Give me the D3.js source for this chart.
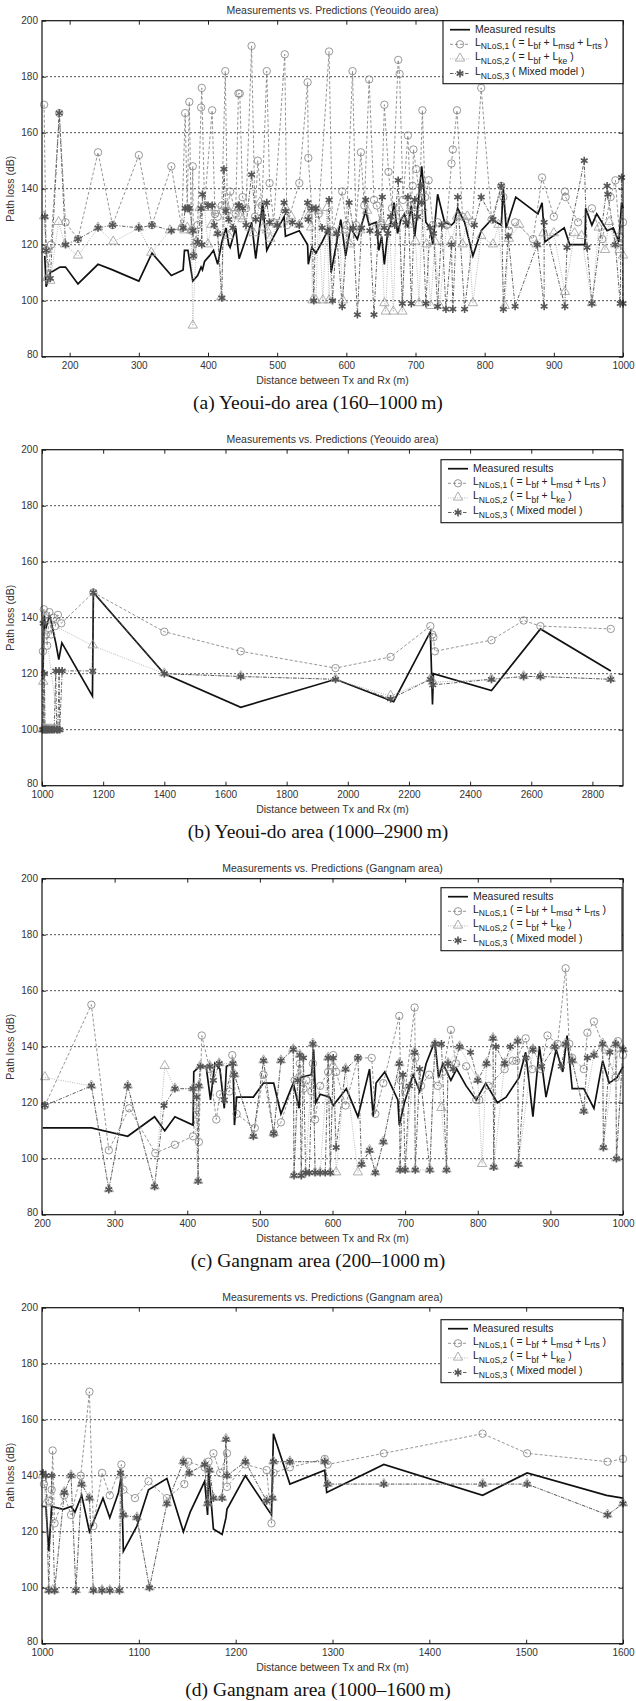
<!DOCTYPE html>
<html><head><meta charset="utf-8">
<script src="https://cdn.jsdelivr.net/npm/d3@7"></script>
<style>body{margin:0;background:#fff}svg{display:block}</style>
</head><body>
<script>
// ---------- labels ----------
const panelTitles = ["Measurements vs. Predictions (Yeouido area)","Measurements vs. Predictions (Yeouido area)","Measurements vs. Predictions (Gangnam area)","Measurements vs. Predictions (Gangnam area)"];
const captions = ["(a) Yeoui-do area (160\u20131000\u2009m)","(b) Yeoui-do area (1000\u20132900\u2009m)","(c) Gangnam area (200\u20131000\u2009m)","(d) Gangnam area (1000\u20131600\u2009m)"];
const xDomains = [[160,1000],[1000,2900],[200,1000],[1000,1600]];
const xTicksA = [200,300,400,500,600,700,800,900,1000];
const xTicksB = [1000,1200,1400,1600,1800,2000,2200,2400,2600,2800];
const xTicksC = [200,300,400,500,600,700,800,900,1000];
const xTicksD = [1000,1100,1200,1300,1400,1500,1600];
const yTicks = [80,100,120,140,160,180,200];
const xLabel = "Distance between Tx and Rx (m)";
const yLabel = "Path loss (dB)";

// ---------- panel (a) ----------
const measA = [[164,116],[166,105],[172,110],[186,112],[194,112],[212,106],[241,113],[262,111],[300,107],[319,117],[347,109],[364,111],[366,118],[371,118],[378,107],[385,109],[390,112],[392,111],[395,114],[402,116],[408,118],[414,113],[420,121],[426,126],[430,120],[432,119],[440,126],[445,115],[463,128],[469,115],[479,135],[485,118],[489,120],[510,130],[512,123],[532,125],[544,120],[545,113],[550,119],[556,117],[565,121],[575,126],[578,110],[592,129],[599,116],[606,126],[616,122],[628,132],[633,127],[643,128],[647,118],[651,123],[655,113],[660,125],[664,127],[669,135],[674,124],[679,129],[684,131],[689,126],[694,134],[699,123],[704,135],[709,148],[712,140],[715,128],[721,126],[725,120],[732,138],[742,128],[752,127],[756,128],[761,133],[771,128],[783,116],[795,125],[810,129],[824,127],[827,140],[831,126],[845,137],[877,131],[883,135],[887,121],[915,126],[923,120],[945,120],[946,133],[955,127],[962,131],[977,125],[986,126],[994,121],[998,135],[1000,133]];
const nlos1A = [[163,170],[166,118],[168,108],[173,120],[185,167],[194,128],[212,122],[241,153],[262,127],[300,152],[319,127],[347,148],[362,126],[367,167],[370,133],[373,171],[376,125],[378,148],[379,116],[385,127],[390,169],[391,176],[395,134],[406,168],[410,131],[414,130],[420,134],[425,182],[428,132],[432,139],[440,131],[444,174],[446,174],[450,137],[455,133],[463,191],[468,130],[472,150],[478,134],[485,182],[489,142],[495,128],[511,188],[514,127],[532,142],[544,178],[545,151],[550,133],[560,131],[575,189],[580,125],[594,139],[600,127],[609,182],[614,127],[621,153],[626,134],[633,179],[640,136],[644,134],[650,127],[655,170],[661,146],[666,133],[675,186],[677,181],[682,136],[689,159],[693,134],[696,141],[697,154],[701,147],[706,137],[710,168],[714,137],[719,143],[725,127],[732,128],[745,127],[752,149],[754,154],[760,168],[768,130],[782,128],[795,176],[810,129],[824,141],[827,137],[835,125],[844,128],[870,122],[883,144],[900,130],[916,139],[917,137],[935,128],[955,133],[970,122],[982,137],[989,143],[995,123],[1000,128]];
const nlos2A = [[163,130],[166,118],[168,108],[172,107],[184,128],[193,120],[212,116],[241,126],[263,121],[300,126],[318,117],[345,125],[362,126],[366,125],[370,126],[376,125],[378,91],[383,121],[388,133],[395,133],[400,120],[405,127],[410,133],[414,124],[419,101],[425,134],[430,123],[440,133],[446,130],[450,129],[460,126],[466,124],[475,135],[480,126],[485,125],[490,122],[500,127],[512,133],[520,130],[532,127],[545,130],[549,126],[551,100],[556,100],[560,132],[566,100],[572,133],[575,100],[580,124],[590,125],[595,100],[599,125],[605,120],[612,126],[620,125],[630,132],[640,125],[650,128],[655,99],[657,96],[662,128],[668,96],[672,130],[676,133],[681,96],[686,130],[690,127],[695,133],[700,121],[705,99],[710,133],[716,120],[722,98],[728,121],[735,98],[745,127],[752,121],[760,130],[768,120],[775,130],[783,99],[795,123],[812,120],[820,127],[829,98],[835,122],[850,127],[875,120],[885,124],[900,124],[916,103],[930,124],[940,123],[955,99],[965,126],[974,118],[980,128],[989,120],[995,118],[1000,116]];
const nlos3A = [[164,130],[166,118],[172,108],[185,167],[194,120],[212,122],[241,126],[262,127],[300,126],[319,127],[347,125],[364,126],[367,133],[371,133],[373,133],[378,125],[379,116],[385,121],[390,133],[391,120],[392,138],[400,134],[406,134],[409,127],[414,124],[420,101],[423,147],[426,132],[430,129],[436,126],[444,134],[445,134],[450,133],[455,127],[463,145],[469,129],[479,130],[485,135],[489,128],[500,127],[510,135],[512,132],[522,128],[532,127],[544,135],[545,129],[550,133],[553,100],[556,133],[565,126],[573,125],[575,136],[580,100],[586,124],[594,98],[604,135],[610,126],[616,95],[622,126],[628,136],[634,125],[640,95],[646,124],[652,137],[655,126],[660,124],[664,130],[670,127],[675,143],[681,99],[686,128],[689,137],[694,99],[699,136],[703,130],[708,141],[709,135],[715,99],[721,126],[726,124],[732,98],[738,127],[744,97],[752,120],[754,97],[761,137],[771,97],[785,127],[795,137],[812,129],[824,141],[827,97],[834,123],[844,98],[876,120],[886,98],[886,128],[916,98],[919,119],[944,150],[948,119],[955,99],[977,141],[978,138],[989,120],[996,99],[998,144],[1000,99]];

// ---------- panel (b) ----------
const measB = [[1003,118],[1007,141],[1012,136],[1025,141],[1045,131],[1055,125],[1065,131],[1165,112],[1168,149],[1400,120],[1650,108],[1960,118],[2150,110],[2270,135],[2277,109],[2280,120],[2470,114],[2630,136],[2860,121]];
const nlos1B = [[1003,128],[1006,143],[1010,141],[1013,134],[1017,130],[1024,142],[1030,134],[1038,140],[1043,137],[1052,141],[1063,138],[1168,149],[1400,135],[1650,128],[1960,122],[2140,126],[2270,137],[2276,134],[2280,133],[2285,128],[2470,132],[2575,139],[2630,137],[2860,136]];
const nlos2B = [[1002,100],[1004,117],[1006,100],[1009,100],[1011,100],[1014,100],[1018,100],[1022,100],[1027,100],[1032,100],[1038,100],[1042,100],[1048,100],[1055,100],[1008,139],[1166,130],[1400,120],[1650,119],[1960,118],[2140,112],[2270,118],[2278,117],[2470,118],[2575,119],[2630,119],[2860,118]];
const nlos3B = [[1002,100],[1004,138],[1006,100],[1008,120],[1010,100],[1013,100],[1016,100],[1020,100],[1025,100],[1030,100],[1035,100],[1040,100],[1045,121],[1048,100],[1052,100],[1056,121],[1058,100],[1066,121],[1166,121],[1168,149],[1400,120],[1650,119],[1960,118],[2140,111],[2270,118],[2278,116],[2470,118],[2575,119],[2630,119],[2860,118]];

// ---------- panel (c) ----------
const measC = [[201,111],[268,111],[318,108],[355,115],[369,110],[383,115],[408,112],[409,131],[417,133],[426,133],[432,121],[438,134],[445,132],[451,118],[454,133],[463,134],[465,112],[468,122],[491,122],[505,127],[519,127],[529,116],[546,127],[554,118],[556,129],[571,130],[574,139],[577,120],[583,123],[596,122],[601,119],[619,125],[635,115],[651,132],[656,115],[660,127],[672,131],[690,121],[692,112],[699,120],[711,130],[720,124],[729,134],[741,142],[746,129],[752,134],[763,128],[771,132],[784,126],[798,121],[811,127],[827,120],[839,122],[857,129],[866,138],[876,115],[885,140],[894,122],[908,139],[917,131],[923,144],[930,125],[946,125],[960,118],[972,135],[981,127],[992,129],[1000,133]];
const nlos1C = [[204,119],[268,155],[292,103],[320,118],[356,102],[383,105],[408,108],[412,118],[416,106],[420,144],[431,132],[440,114],[445,123],[458,124],[462,137],[468,116],[493,111],[505,130],[519,109],[529,113],[548,128],[555,134],[560,125],[564,128],[571,124],[573,134],[576,114],[583,126],[594,131],[601,137],[605,131],[618,119],[635,136],[654,136],[659,116],[670,127],[692,151],[694,128],[700,124],[713,154],[714,136],[722,126],[733,130],[745,126],[752,131],[763,146],[770,134],[784,133],[798,121],[802,121],[815,126],[837,132],[848,135],[853,135],[866,143],[875,132],[887,132],[896,144],[910,141],[921,168],[926,141],[930,136],[946,132],[951,145],[960,149],[975,139],[990,129],[993,142],[1000,137]];
const nlos2C = [[204,129],[268,126],[292,89],[318,126],[355,90],[369,133],[383,125],[408,125],[415,92],[416,126],[418,133],[431,133],[444,134],[463,134],[465,130],[491,108],[505,135],[519,109],[529,135],[546,139],[547,94],[555,137],[557,94],[563,95],[573,141],[576,95],[583,95],[594,136],[597,95],[601,133],[605,95],[618,132],[635,95],[640,98],[651,103],[659,95],[670,106],[692,134],[693,96],[700,96],[713,138],[714,96],[734,96],[741,141],[750,118],[757,96],[759,134],[775,140],[800,128],[806,98],[812,134],[821,143],[822,97],[837,134],[855,142],[856,98],[876,139],[906,140],[921,141],[930,135],[946,117],[960,137],[972,141],[973,104],[990,141],[991,100],[1000,139]];
const nlos3C = [[204,119],[268,126],[292,89],[318,126],[355,90],[368,119],[383,125],[408,125],[413,122],[415,92],[416,126],[418,133],[431,133],[436,128],[444,134],[451,121],[463,134],[465,130],[491,108],[505,135],[519,109],[529,135],[546,139],[547,94],[552,128],[555,137],[557,94],[560,136],[563,95],[568,95],[573,141],[576,95],[583,95],[590,95],[594,136],[597,95],[601,136],[605,104],[618,132],[635,136],[640,98],[651,103],[659,95],[670,106],[692,134],[693,96],[697,130],[700,96],[706,126],[713,138],[714,96],[720,132],[734,96],[741,141],[750,141],[757,96],[759,134],[766,132],[775,140],[790,138],[800,128],[812,134],[821,143],[822,97],[825,140],[837,134],[845,140],[855,142],[856,98],[866,136],[876,139],[888,133],[906,140],[915,133],[921,141],[930,135],[946,117],[951,136],[960,137],[972,141],[973,104],[982,138],[990,141],[991,100],[1000,139]];

// ---------- panel (d) ----------
const measD = [[1000,129],[1004,129],[1007,113],[1010,129],[1022,128],[1030,129],[1034,127],[1041,133],[1049,120],[1063,132],[1070,125],[1079,134],[1082,140],[1084,113],[1098,122],[1110,135],[1129,139],[1146,120],[1153,127],[1168,138],[1171,126],[1172,142],[1177,121],[1186,119],[1190,125],[1191,128],[1210,140],[1237,126],[1239,155],[1256,137],[1292,142],[1294,134],[1353,144],[1455,133],[1501,141],[1583,133],[1600,132]];
const nlos1D = [[1002,137],[1007,131],[1010,135],[1011,149],[1013,123],[1023,133],[1030,126],[1040,140],[1049,170],[1053,122],[1062,141],[1070,133],[1082,144],[1084,135],[1096,132],[1110,138],[1129,132],[1147,137],[1151,145],[1168,143],[1172,145],[1177,148],[1184,141],[1191,148],[1191,136],[1210,144],[1232,142],[1237,123],[1239,141],[1256,143],[1292,146],[1295,144],[1353,148],[1455,155],[1501,148],[1584,145],[1600,146]];
const nlos2D = [[1001,140],[1004,130],[1007,99],[1011,99],[1013,99],[1023,134],[1030,140],[1035,99],[1041,137],[1049,132],[1053,99],[1062,99],[1070,99],[1080,99],[1082,140],[1084,126],[1098,125],[1111,100],[1129,130],[1146,145],[1152,141],[1168,144],[1171,130],[1173,142],[1177,132],[1186,132],[1190,153],[1191,140],[1210,145],[1232,131],[1238,132],[1239,145],[1256,145],[1292,145],[1295,137],[1353,137],[1455,137],[1501,137],[1584,126],[1600,130]];
const nlos3D = [[1001,141],[1004,140],[1007,99],[1010,140],[1013,99],[1023,134],[1030,140],[1035,99],[1041,137],[1049,132],[1053,99],[1062,99],[1070,99],[1080,99],[1081,141],[1084,126],[1098,125],[1111,100],[1129,130],[1146,145],[1152,141],[1168,144],[1171,130],[1173,142],[1177,132],[1186,132],[1190,153],[1191,140],[1210,145],[1232,131],[1238,132],[1239,145],[1256,145],[1292,145],[1295,137],[1353,137],[1455,137],[1501,137],[1584,126],[1600,130]];

// ---------- assembly ----------
const panels = [
  {meas:measA,n1:nlos1A,n2:nlos2A,n3:nlos3A,ticks:xTicksA,leg:0},
  {meas:measB,n1:nlos1B,n2:nlos2B,n3:nlos3B,ticks:xTicksB,leg:10},
  {meas:measC,n1:nlos1C,n2:nlos2C,n3:nlos3C,ticks:xTicksC,leg:9},
  {meas:measD,n1:nlos1D,n2:nlos2D,n3:nlos3D,ticks:xTicksD,leg:12}
];

const W = 636, H = 1701, L = 42, R = 623, PH = 336;
const font = "'Liberation Sans', Arial, sans-serif";
const svg = d3.select("body").append("svg").attr("width", W).attr("height", H);

const styles = {
  n1: {stroke:"#7a7a7a", dash:"3,2", width:0.8},
  n2: {stroke:"#a8a8a8", dash:"1,1.3", width:0.8},
  n3: {stroke:"#505050", dash:"3.5,1.5,1,1.5", width:0.9}
};
const triPath = d3.symbol().type(d3.symbolTriangle).size(38)();
const astPath = d3.symbol().type(d3.symbolAsterisk).size(42)();

function drawMarker(g, kind, cx, cy) {
  if (kind === "n1") {
    g.append("circle").attr("cx", cx).attr("cy", cy).attr("r", 3.7)
      .attr("fill", "none").attr("stroke", "#7f7f7f").attr("stroke-width", 0.8);
  } else if (kind === "n2") {
    g.append("path").attr("d", triPath).attr("transform", `translate(${cx},${cy - 0.5})`)
      .attr("fill", "none").attr("stroke", "#9c9c9c").attr("stroke-width", 0.8);
  } else {
    g.append("path").attr("d", astPath).attr("transform", `translate(${cx},${cy})`)
      .attr("fill", "none").attr("stroke", "#555").attr("stroke-width", 1.6);
  }
}

const fmt = d3.format("d");

panels.forEach((p, i) => {
  const top = 20.7 + 429 * i;
  const x = d3.scaleLinear().domain(xDomains[i]).range([L, R]);
  const y = d3.scaleLinear().domain([80, 200]).range([top + PH, top]);
  const g = svg.append("g");

  const cid = "clip" + i;
  svg.append("clipPath").attr("id", cid).append("rect")
    .attr("x", L - 5).attr("y", top - 5).attr("width", R - L + 10).attr("height", PH + 10);

  g.append("text").attr("x", (L + R) / 2).attr("y", top - 7).attr("text-anchor", "middle")
    .attr("font-family", font).attr("font-size", 10.5).attr("fill", "#333").text(panelTitles[i]);

  g.selectAll(".grid").data([100, 120, 140, 160, 180]).join("line")
    .attr("x1", L).attr("x2", R).attr("y1", d => y(d)).attr("y2", d => y(d))
    .attr("stroke", "#222").attr("stroke-width", 0.8).attr("stroke-dasharray", "2,2");

  const ax = (gen, tr, labels) => {
    const a = g.append("g").attr("transform", tr).call(gen);
    a.select(".domain").remove();
    a.selectAll("line").attr("stroke", "#222");
    a.selectAll("text").attr("font-family", font).attr("font-size", 10).attr("fill", "#333");
    if (!labels) a.selectAll("text").remove();
    return a;
  };
  ax(d3.axisBottom(x).tickValues(p.ticks).tickFormat(fmt).tickSize(-4).tickPadding(5), `translate(0,${top + PH})`, true);
  ax(d3.axisTop(x).tickValues(p.ticks).tickSize(-4), `translate(0,${top})`, false);
  ax(d3.axisLeft(y).tickValues(yTicks).tickFormat(fmt).tickSize(-4).tickPadding(4), `translate(${L},0)`, true)
    .selectAll("text").attr("dy", (d) => d === 80 ? "0.1em" : "0.32em");
  ax(d3.axisRight(y).tickValues(yTicks).tickSize(-4), `translate(${R},0)`, false);

  const line = d3.line().x(d => x(d[0])).y(d => y(d[1]));
  const sg = g.append("g").attr("clip-path", `url(#${cid})`);
  sg.append("path").datum(p.meas).attr("d", line).attr("fill", "none")
    .attr("stroke", "#111").attr("stroke-width", 1.7).attr("stroke-linejoin", "miter");
  ["n1", "n2", "n3"].forEach(k => {
    const st = styles[k];
    sg.append("path").datum(p[k]).attr("d", line).attr("fill", "none")
      .attr("stroke", st.stroke).attr("stroke-width", st.width).attr("stroke-dasharray", st.dash);
  });
  ["n1", "n2", "n3"].forEach(k => {
    const mg = sg.append("g");
    p[k].forEach(d => drawMarker(mg, k, x(d[0]), y(d[1])));
  });

  g.append("rect").attr("x", L).attr("y", top).attr("width", R - L).attr("height", PH)
    .attr("fill", "none").attr("stroke", "#111").attr("stroke-width", 1.2);

  g.append("text").attr("x", (L + R) / 2).attr("y", top + PH + 27).attr("text-anchor", "middle")
    .attr("font-family", font).attr("font-size", 10.5).attr("fill", "#333").text(xLabel);
  g.append("text").attr("transform", `translate(14,${top + PH / 2}) rotate(-90)`).attr("text-anchor", "middle")
    .attr("font-family", font).attr("font-size", 10.5).attr("fill", "#333").text(yLabel);

  g.append("text").attr("x", 318).attr("y", top + PH + 52).attr("text-anchor", "middle")
    .attr("font-family", "'Liberation Serif', 'Times New Roman', serif").attr("font-size", 19.5)
    .attr("fill", "#111").text(captions[i]);

  const lx = i === 0 ? 443 : 441, ly = top + p.leg, lw = R - lx - (i === 0 ? 0 : 1), lh = 63;
  const lg = g.append("g");
  lg.append("rect").attr("x", lx).attr("y", ly).attr("width", lw).attr("height", lh)
    .attr("fill", "#fff").attr("stroke", "#111").attr("stroke-width", 1.1);
  const rows = [
    {k: "m", parts: [["Measured results", false]]},
    {k: "n1", parts: [["L", false], ["NLoS,1", true], [" ( = L", false], ["bf", true], [" + L", false], ["msd", true], [" + L", false], ["rts", true], [" )", false]]},
    {k: "n2", parts: [["L", false], ["NLoS,2", true], [" ( = L", false], ["bf", true], [" + L", false], ["ke", true], [" )", false]]},
    {k: "n3", parts: [["L", false], ["NLoS,3", true], [" ( Mixed model )", false]]}
  ];
  rows.forEach((r, j) => {
    const cy = ly + 9 + j * 14.6;
    const x1 = lx + 7, x2 = lx + 27;
    if (r.k === "m") {
      lg.append("line").attr("x1", x1).attr("x2", x2).attr("y1", cy).attr("y2", cy)
        .attr("stroke", "#111").attr("stroke-width", 1.7);
    } else {
      const st = styles[r.k];
      lg.append("line").attr("x1", x1).attr("x2", x2).attr("y1", cy).attr("y2", cy)
        .attr("stroke", st.stroke).attr("stroke-width", st.width).attr("stroke-dasharray", st.dash);
      drawMarker(lg, r.k, (x1 + x2) / 2, cy);
    }
    const t = lg.append("text").attr("x", lx + 32).attr("y", cy + (r.k === "m" ? 3.5 : 1.5))
      .attr("font-family", font).attr("font-size", 10.5).attr("fill", "#222");
    let sub = false;
    r.parts.forEach(([s, isSub]) => {
      const ts = t.append("tspan").text(s);
      if (isSub && !sub) { ts.attr("dy", 3.5).attr("font-size", 8.5); sub = true; }
      else if (isSub) { ts.attr("font-size", 8.5); }
      else if (!isSub && sub) { ts.attr("dy", -3.5); sub = false; }
    });
  });
});
</script>
</body></html>
